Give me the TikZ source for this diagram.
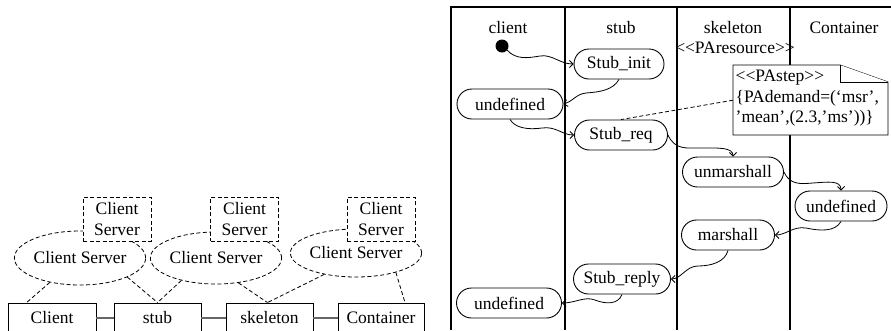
\documentclass[tikz,border=0pt]{standalone}
\usepackage{fontspec}
\setmainfont{Liberation Serif}
\usetikzlibrary{arrows.meta,shapes.geometric,calc}

\begin{document}
\begin{tikzpicture}[x=1pt,y=-1pt,
  every node/.style={font=\fontsize{17.5}{20.5}\selectfont},
  lane/.style={line width=1.5pt},
  comp/.style={draw,line width=0.9pt,minimum height=30pt,inner sep=0pt},
  link/.style={line width=1.6pt,draw=black!60},
  dashpat/.style={dash pattern=on 4pt off 2.5pt,line width=0.8pt},
  role/.style={draw,fill=white,dashpat,minimum width=68pt,minimum height=44pt,
    align=center,inner sep=0pt},
  collab/.style={ellipse,draw,dashpat,minimum width=131pt,inner sep=0pt},
  assoc/.style={dashpat},
  state/.style={draw,rounded corners=15pt,minimum height=30pt,inner sep=0pt,
    line width=0.9pt},
  flow/.style={line width=0.8pt,-{Straight Barb[length=3.5pt,width=7pt]}},
  notebox/.style={draw,fill=white,line width=0.9pt},
]
\useasboundingbox (0,0) rectangle (891,330);
\clip (0,0) rectangle (891,330);

% ---------- collaboration view ----------
\node[collab,minimum height=54pt] (e1) at (80,258) {Client Server};
\node[collab,minimum height=52pt] (e2) at (216,258) {Client Server};
\node[collab,minimum height=48pt] (e3) at (356,253) {Client Server};

\node[role] (r1) at (117,219) {Client\\Server};
\node[role] (r2) at (244.5,219) {Client\\Server};
\node[role] (r3) at (381,219) {Client\\Server};

\node[comp,minimum width=88pt] (c1) at (52,318) {Client};
\node[comp,minimum width=87pt] (c2) at (157.5,318) {stub};
\node[comp,minimum width=87pt] (c3) at (269.5,318) {skeleton};
\node[comp,minimum width=86pt] (c4) at (381,318) {Container};

\draw[link] (c1.east) -- (c2.west);
\draw[link] (c2.east) -- (c3.west);
\draw[link] (c3.east) -- (c4.west);

\draw[assoc] (e1.-141) -- ($(c1.north west)+(19,0)$);
\draw[assoc] (e1.-22) -- (c2.north);
\draw[assoc] (e2.-147) -- (c2.north);
\draw[assoc] (e2.-48) -- ($(c3.north)+(-2,0)$);
\draw[assoc] (e3.-146) -- ($(c3.north)+(-2,0)$);
\draw[assoc] (e3.-26) -- ($(c4.north)+(24,0)$);

% ---------- swimlanes ----------
\draw[lane] (451,330) -- (451,7) -- (891,7);
\draw[lane] (565,7) -- (565,330);
\draw[lane] (677,7) -- (677,330);
\draw[lane] (790,7) -- (790,330);

\node (hclient) at (508,28) {client};
\node (hstub) at (621,28) {stub};
\node (hskel) at (733,28) {skeleton};
\node (hres) at (735,48) {<{}<PAresource>{}>};
\node (hcont) at (844,28) {Container};

% states
\fill (502,46) circle (6.5pt);
\coordinate (start) at (507,50);
\node[state,fill=white,minimum width=90pt] (sinit) at (619,64) {Stub\_init};
\node[state,minimum width=106pt] (u1) at (510,104) {undefined};
\node[state,minimum width=93pt] (sreq) at (621,135) {Stub\_req};
\node[state,minimum width=101pt] (unm) at (733,172) {unmarshall};
\node[state,fill=white,minimum width=92pt] (u2) at (841,206) {undefined};
\node[state,minimum width=93pt] (mar) at (728,235) {marshall};
\node[state,minimum width=97pt] (srep) at (622,279) {Stub\_reply};
\node[state,minimum width=105pt] (u3) at (509,303) {undefined};

% transitions
\draw[flow] (start) .. controls (516,60) and (528,58) .. (540,56)
  .. controls (552,54) and (560,64) .. (sinit.west);
\draw[flow] (sinit.south) .. controls (613,90) and (600,92) .. (586,93)
  .. controls (576,94) and (572,102) .. (u1.east);
\draw[flow] (u1.south) .. controls (515,128) and (528,130) .. (542,128)
  .. controls (556,126) and (562,135) .. (sreq.west);
\draw[flow] (sreq.east) .. controls (675,150) and (686,148) .. (700,148)
  .. controls (718,148) and (733,147) .. (unm.north);
\draw[flow] (unm.east) .. controls (790,185) and (800,184) .. (813,183)
  .. controls (828,182) and (841,180) .. (u2.north);
\draw[flow] (u2.south) .. controls (835,232) and (820,231) .. (806,228)
  .. controls (793,226) and (786,235) .. (mar.east);
\draw[flow] (mar.south) .. controls (725,262) and (711,266) .. (698,266)
  .. controls (686,266) and (681,279) .. (srep.east);
\draw[flow] (srep.south) .. controls (618,305) and (605,304) .. (595,300)
  .. controls (585,296) and (575,303) .. (u3.east);

% performance annotation
\draw[notebox] (733,65) -- (840,65) -- (888,82) -- (888,135) -- (733,135) -- cycle;
\draw[notebox] (840,65) -- (840,82) -- (888,82);
\node[inner sep=0pt,minimum width=155pt,minimum height=70pt,anchor=north west]
  (note) at (733,65) {};
\node[anchor=north west,align=left,inner sep=0pt] (notetext) at (735.5,70)
  {<{}<PAstep>{}>\\\{PAdemand=(‘msr’,\\’mean’,(2.3,’ms’))\}};
\draw[assoc] (note.west) -- (sreq.north);
\end{tikzpicture}
\end{document}
